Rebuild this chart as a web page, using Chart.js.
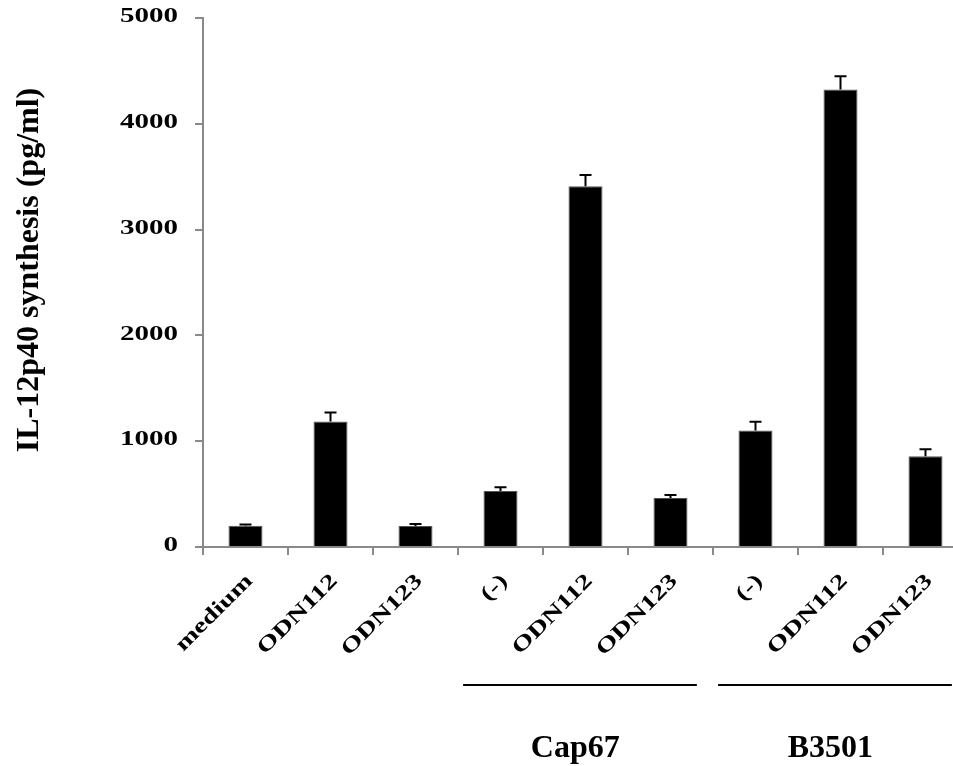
<!DOCTYPE html>
<html>
<head>
<meta charset="utf-8">
<script src="https://cdn.jsdelivr.net/npm/chart.js@4.4.0/dist/chart.umd.min.js"></script>
<style>
    html, body { margin: 0; padding: 0; background: #fff; overflow: hidden; }
    #wrap { width: 953px; height: 766px; overflow: hidden; }
</style>
</head>
<body>
<div id="wrap"><canvas id="il12Chart" width="980" height="766"></canvas></div>
<script>
const categories = ["medium", "ODN112", "ODN123", "(-)", "ODN112", "ODN123", "(-)", "ODN112", "ODN123"];
const means = [200, 1186, 199, 530, 3410, 464, 1101, 4325, 858];
const errors = [12, 85, 19, 35, 107, 28, 82, 125, 66];
const yTicks = [0, 1000, 2000, 3000, 4000, 5000];
const groupNames = ["Cap67", "B3501"];
const groupFirst = [3, 6];
const groupLast = [5, 8];
const yTitle = "IL-12p40 synthesis (pg/ml)";

const FONT = '"Liberation Serif", "Times New Roman", serif';
const AXIS_GREY = "#898989";

// text in the figure is drawn wider than normal, so draw it by hand
function wideText(ctx, txt, x, y, angle, sx, size, align, baseline) {
    ctx.save();
    ctx.translate(x, y);
    ctx.rotate(angle);
    ctx.scale(sx, 1);
    ctx.font = "bold " + size + "px " + FONT;
    ctx.textAlign = align;
    ctx.textBaseline = baseline;
    ctx.fillStyle = "#000";
    ctx.fillText(txt, 0, 0);
    ctx.restore();
}

const errorBars = {
    id: "errorBars",
    afterDatasetsDraw(chart) {
        const ctx = chart.ctx;
        const yScale = chart.scales.y;
        const meta = chart.getDatasetMeta(0);
        ctx.save();
        ctx.strokeStyle = "#000";
        ctx.lineWidth = 2;
        meta.data.forEach((bar, i) => {
            const top = yScale.getPixelForValue(means[i] + errors[i]);
            ctx.beginPath();
            ctx.moveTo(bar.x, bar.y);
            ctx.lineTo(bar.x, top);
            ctx.moveTo(bar.x - 6, top);
            ctx.lineTo(bar.x + 6, top);
            ctx.stroke();
        });
        ctx.restore();
    }
};

const labelsPlugin = {
    id: "labels",
    afterDraw(chart) {
        const ctx = chart.ctx;
        const xs = chart.scales.x;
        const ys = chart.scales.y;
        const area = chart.chartArea;
        const cw = xs.getPixelForValue(1) - xs.getPixelForValue(0);

        yTicks.forEach(v => {
            wideText(ctx, String(v), area.left - 25, ys.getPixelForValue(v) - 1, 0, 1.45, 20, "right", "middle");
        });

        categories.forEach((c, i) => {
            wideText(ctx, c, xs.getPixelForValue(i) + 4, area.bottom + 31, -Math.PI / 4, 1.35, 21, "right", "middle");
        });

        wideText(ctx, yTitle, 37.5, 270, -Math.PI / 2, 1.0, 32, "center", "alphabetic");

        ctx.save();
        ctx.strokeStyle = "#000";
        ctx.lineWidth = 2;
        groupNames.forEach((g, k) => {
            const x1 = xs.getPixelForValue(groupFirst[k]) - 0.44 * cw;
            const x2 = xs.getPixelForValue(groupLast[k]) + 0.31 * cw;
            ctx.beginPath();
            ctx.moveTo(x1, 685);
            ctx.lineTo(x2, 685);
            ctx.stroke();
            const mid = (groupFirst[k] + groupLast[k]) / 2 - 0.12;
            wideText(ctx, g, xs.getPixelForValue(mid), 757, 0, 1.0, 32, "center", "alphabetic");
        });
        ctx.restore();
    }
};

const ctx = document.getElementById("il12Chart").getContext("2d");
new Chart(ctx, {
    type: "bar",
    data: {
        labels: categories,
        datasets: [{
            data: means,
            backgroundColor: "#000",
            borderColor: "#555",
            borderWidth: 1,
            barPercentage: 0.4,
            categoryPercentage: 1.0
        }]
    },
    options: {
        responsive: false,
        animation: false,
        layout: { padding: { top: 18, right: 12, left: 0, bottom: 0 } },
        plugins: {
            legend: { display: false },
            tooltip: { enabled: false }
        },
        scales: {
            x: {
                offset: true,
                ticks: { display: false },
                grid: {
                    drawOnChartArea: false,
                    tickLength: 8,
                    color: AXIS_GREY,
                    lineWidth: 2,
                    offset: true
                },
                border: { color: AXIS_GREY, width: 2 },
                afterFit(s) { s.height = 219; }
            },
            y: {
                min: 0,
                max: 5000,
                ticks: { display: false, stepSize: 1000 },
                grid: {
                    drawOnChartArea: false,
                    tickLength: 8,
                    color: AXIS_GREY,
                    lineWidth: 2
                },
                border: { color: AXIS_GREY, width: 2 },
                afterFit(s) { s.width = 203; }
            }
        }
    },
    plugins: [errorBars, labelsPlugin]
});
</script>
</body>
</html>
